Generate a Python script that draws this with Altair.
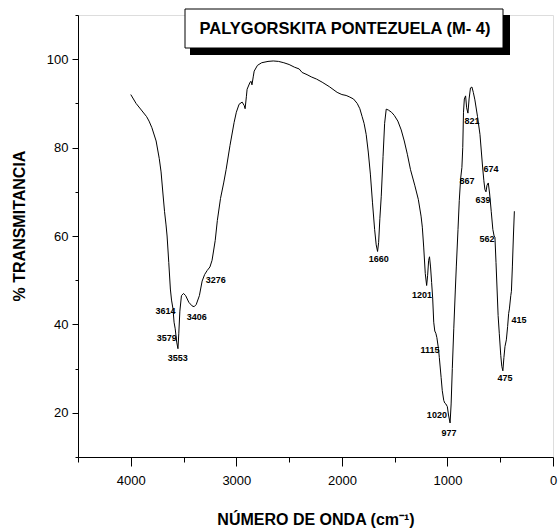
import altair as alt
import pandas as pd

# Spectrum (wavenumber cm-1, % transmittance)
wavenumber = [4000, 3950, 3900, 3850, 3827, 3800, 3760, 3730, 3713, 3695, 3680, 3666, 3656, 3640, 3625,
              3614, 3600, 3590, 3579, 3565, 3553, 3545, 3535, 3520, 3500, 3480, 3450, 3420, 3400, 3380,
              3350, 3324, 3300, 3276, 3250, 3230, 3200, 3180, 3150, 3120, 3097, 3060, 3021, 3000, 2974,
              2945, 2925, 2917, 2905, 2898, 2870, 2860, 2852, 2840, 2831, 2800, 2760, 2700, 2650, 2600,
              2550, 2500, 2450, 2405, 2377, 2330, 2290, 2240, 2187, 2120, 2045, 2000, 1960, 1931, 1890,
              1855, 1830, 1808, 1790, 1770, 1750, 1730, 1710, 1690, 1675, 1662, 1652, 1640, 1627, 1610,
              1595, 1580, 1560, 1530, 1504, 1470, 1438, 1409, 1380, 1350, 1310, 1276, 1250, 1238, 1225,
              1210, 1197, 1188, 1178, 1170, 1160, 1150, 1140, 1130, 1120, 1110, 1100, 1085, 1077, 1060,
              1049, 1035, 1025, 1015, 1001, 990, 975, 965, 954, 940, 925, 916, 900, 888, 875,
              863, 855, 848, 840, 828, 818, 806, 795, 782, 768, 755, 740, 715, 692, 667,
              655, 645, 635, 625, 613, 600, 585, 570, 558, 550, 540, 520, 509, 495, 485,
              475, 465, 455, 442, 430, 420, 413, 400, 394, 385, 375, 366]
transmittance = [92.0, 90.0, 88.5, 87.0, 86.0, 84.5, 81.5, 77.5, 74.5, 69.5, 65.5, 62.5, 60.0, 54.0, 48.0,
                 45.5, 43.5, 40.5, 39.0, 36.0, 34.5, 38.0, 43.0, 46.5, 47.0, 46.5, 45.0, 44.2, 44.0, 44.5,
                 46.5, 49.8, 51.3, 52.2, 53.0, 54.5, 59.0, 63.5, 68.5, 72.0, 75.0, 80.5, 85.7, 88.0, 89.8,
                 90.3, 89.5, 88.8, 91.5, 93.2, 94.8, 95.0, 94.2, 96.0, 97.3, 98.6, 99.2, 99.5, 99.6, 99.5,
                 99.2, 98.8, 98.2, 97.8, 97.0, 96.5, 96.0, 95.5, 94.8, 93.8, 92.5, 92.0, 91.8, 91.5, 91.0,
                 90.0, 88.8, 87.0, 85.5, 83.0, 79.0, 74.0, 67.5, 61.5, 58.0, 56.5, 58.5, 64.0, 69.0, 78.0,
                 85.5, 88.7, 88.5, 88.0, 87.3, 86.0, 84.0, 81.5, 78.5, 75.0, 71.5, 68.3, 64.5, 62.0, 57.5,
                 51.5, 48.8, 51.0, 54.5, 55.3, 53.0, 49.5, 46.0, 40.5, 38.5, 38.0, 37.0, 34.5, 32.5, 28.0,
                 25.0, 22.8, 22.2, 22.0, 21.4, 19.5, 17.7, 22.0, 30.0, 39.0, 48.0, 53.0, 61.5, 68.0, 73.0,
                 75.5, 80.0, 88.0, 91.0, 91.7, 89.0, 87.8, 91.0, 93.5, 93.7, 92.5, 90.8, 87.0, 83.0, 75.6,
                 72.5, 70.5, 70.0, 71.5, 72.0, 69.5, 65.5, 61.5, 60.0, 59.7, 54.0, 42.0, 38.0, 33.0, 30.5,
                 29.5, 32.5, 35.0, 36.5, 39.5, 42.5, 43.5, 46.5, 47.5, 53.0, 60.0, 65.6]

# Peak annotations (text, label anchor wavenumber, label anchor transmittance)
peak_text = ["3614", "3579", "3553", "3406", "3276", "1660", "1201", "1115", "1020", "977",
             "867", "821", "674", "639", "562", "475", "415"]
peak_x = [3670, 3659, 3555, 3375, 3195, 1650, 1242, 1166, 1100, 986,
          815, 768, 588, 664, 626, 455, 322]
peak_y = [43.0, 36.9, 32.4, 41.6, 50.0, 54.8, 46.6, 34.2, 19.5, 15.4,
          72.4, 86.0, 75.1, 68.1, 59.3, 27.9, 41.0]

title_text = "PALYGORSKITA PONTEZUELA (M- 4)"
x_title = "NÚMERO DE ONDA (cm⁻¹)"
y_title = "% TRANSMITANCIA"

x_ticks = [4500, 4000, 3500, 3000, 2500, 2000, 1500, 1000, 500, 0]
y_ticks = [10, 20, 30, 40, 50, 60, 70, 80, 90, 100, 110]

FONT = "Liberation Sans, Arial, sans-serif"
W, H = 475, 442

spec = pd.DataFrame({"wn": wavenumber, "t": transmittance})
peaks = pd.DataFrame({"label": peak_text, "wn": peak_x, "t": peak_y})
one = pd.DataFrame({"k": [0]})

x_scale = alt.Scale(domain=[4500, 0], nice=False, zero=False)
y_scale = alt.Scale(domain=[10, 110], nice=False, zero=False)

x_axis = alt.Axis(
    values=x_ticks, title=None, grid=False, format="d",
    labelExpr="datum.value % 1000 === 0 ? datum.label : ''",
    tickSize={"condition": {"test": "datum.value % 1000 === 0", "value": 9}, "value": 5},
    labelPadding=8, labelFontSize=13, labelFont=FONT, labelColor="black",
    domainColor="black", tickColor="black", labelFlush=False, labelOverlap=False,
)
y_axis = alt.Axis(
    values=y_ticks, title=None, grid=False, format="d",
    labelExpr="datum.value % 20 === 0 ? datum.label : ''",
    tickSize={"condition": {"test": "datum.value % 20 === 0", "value": 6}, "value": 3},
    labelPadding=4, labelFontSize=13, labelFont=FONT, labelColor="black",
    domainColor="black", tickColor="black", labelFlush=False, labelOverlap=False,
)

line = alt.Chart(spec).mark_line(color="black", strokeWidth=1, clip=True).encode(
    x=alt.X("wn:Q", scale=x_scale, axis=x_axis),
    y=alt.Y("t:Q", scale=y_scale, axis=y_axis),
    order=alt.Order("wn:Q", sort="descending"),
)

labels = alt.Chart(peaks).mark_text(
    font=FONT, fontSize=9, fontWeight="bold", color="black", align="center", baseline="middle"
).encode(
    x=alt.X("wn:Q", scale=x_scale),
    y=alt.Y("t:Q", scale=y_scale),
    text="label:N",
)

shadow = alt.Chart(one).mark_rect(color="black").encode(
    x=alt.value(112), x2=alt.value(432), y=alt.value(0), y2=alt.value(40)
)
box = alt.Chart(one).mark_rect(fill="white", stroke="black", strokeWidth=1).encode(
    x=alt.value(107), x2=alt.value(425), y=alt.value(-6), y2=alt.value(33)
)
title = alt.Chart(one).mark_text(
    text=title_text, font=FONT, fontSize=16.5, fontWeight="bold", color="black",
    align="center", baseline="middle"
).encode(x=alt.value(267), y=alt.value(14))

xt = alt.Chart(one).mark_text(
    text=x_title, font=FONT, fontSize=16, fontWeight="bold", color="black",
    align="center", baseline="middle"
).encode(x=alt.value(238), y=alt.value(505))

yt = alt.Chart(one).mark_text(
    text=y_title, font=FONT, fontSize=16, fontWeight="bold", color="black",
    align="center", baseline="middle", angle=270
).encode(x=alt.value(-58), y=alt.value(211))

chart = alt.layer(line, labels, shadow, box, title, xt, yt).properties(
    width=W, height=H,
    autosize=alt.AutoSizeParams(type="none"),
    padding={"left": 78, "top": 15, "right": 7, "bottom": 74},
).configure_view(stroke=None).configure(background="white")

chart.save("out.html", embed_options={"renderer": "svg", "actions": False})
